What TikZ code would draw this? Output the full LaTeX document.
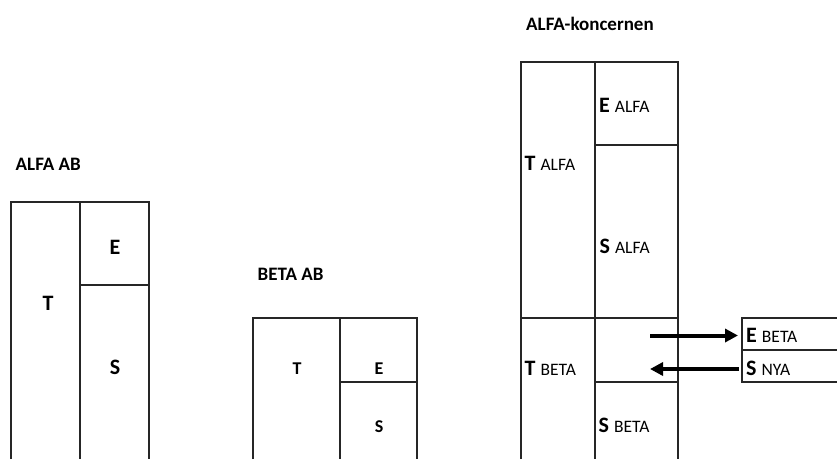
\documentclass[tikz,border=0pt]{standalone}
\usepackage{fontspec}
\setmainfont{Carlito}
\usetikzlibrary{arrows.meta}
\tikzset{
  frame/.style={line width=1.4pt, draw=black!85},
  head/.style={anchor=base west, inner sep=0pt, font=\fontsize{19}{21}\selectfont\bfseries},
  bigA/.style={anchor=base, inner sep=0pt, font=\fontsize{22}{24}\selectfont\bfseries},
  bigB/.style={anchor=base, inner sep=0pt, font=\fontsize{18}{20}\selectfont\bfseries},
  lab/.style={anchor=base west, inner sep=0pt, font=\fontsize{22}{24}\selectfont\bfseries},
  arr/.style={line width=4pt, -{Triangle[length=13pt,width=13pt]}},
}
\newcommand{\sm}[1]{\hspace{5pt}{\fontsize{17.5}{19}\selectfont\mdseries #1}}
\begin{document}
\begin{tikzpicture}[x=1pt,y=-1pt]
\useasboundingbox (0,0) rectangle (837,459);
% ALFA AB
\node[head] (hA) at (15.5,170) {ALFA AB};
\draw[frame] (11,459) -- (11,202) -- (149,202) -- (149,459);
\draw[frame] (80,202) -- (80,459);
\draw[frame] (80,285) -- (149,285);
\node[bigA] (tA) at (48,310.5) {T};
\node[bigA] (eA) at (115,254) {E};
\node[bigA] (sA) at (115,374) {S};
% BETA AB
\node[head] (hB) at (257.5,280.5) {BETA AB};
\draw[frame] (253,459) -- (253,318) -- (417,318) -- (417,459);
\draw[frame] (340,318) -- (340,459);
\draw[frame] (340,382) -- (417,382);
\node[bigB] (tB) at (297,374.5) {T};
\node[bigB] (eB) at (379,374.5) {E};
\node[bigB] (sB) at (379,432) {S};
% ALFA-koncernen
\node[head] (hK) at (526,30.5) {ALFA-koncernen};
\draw[frame] (521,459) -- (521,62) -- (678,62) -- (678,459);
\draw[frame] (595,62) -- (595,459);
\draw[frame] (595,145) -- (678,145);
\draw[frame] (521,318) -- (678,318);
\draw[frame] (595,382) -- (678,382);
\node[lab] (eK) at (599,112.5) {E\sm{ALFA}};
\node[lab] (tK) at (524.5,170) {T\sm{ALFA}};
\node[lab] (sK) at (599.5,253.5) {S\sm{ALFA}};
\node[lab] (tKB) at (524.5,375) {T\sm{BETA}};
\node[lab] (sKB) at (598.5,432) {S\sm{BETA}};
% right cells
\draw[frame] (837,318) -- (742,318) -- (742,382) -- (837,382);
\draw[frame] (742,350) -- (837,350);
\node[lab] (eN) at (746,342.5) {E\sm{BETA}};
\node[lab] (sN) at (746,375) {S\sm{NYA}};
% arrows
\coordinate (a1s) at (650,335.5);
\coordinate (a1e) at (738,335.5);
\coordinate (a2s) at (739,369);
\coordinate (a2e) at (650,369);
\draw[arr] (a1s) -- (a1e);
\draw[arr] (a2s) -- (a2e);
\end{tikzpicture}
\end{document}
